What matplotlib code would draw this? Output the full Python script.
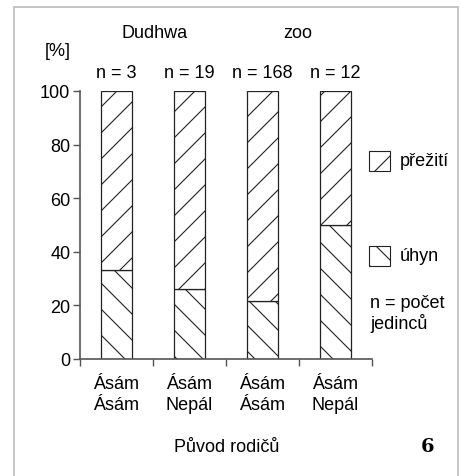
import matplotlib
matplotlib.use("Agg")
import matplotlib.pyplot as plt
from matplotlib.patches import Rectangle
import numpy as np

# data
groups = ["Ásám\nÁsám", "Ásám\nNepál", "Ásám\nÁsám", "Ásám\nNepál"]
n_labels = ["n = 3", "n = 19", "n = 168", "n = 12"]
death = [33.3, 26.3, 21.7, 50.0]
survival = [100 - d for d in death]

# dpi chosen so that the hatch spacing matches the original (~13 px)
DPI = 78
S = 100 / DPI  # sizes below are given as if at 100 dpi
FS = 13 * S

plt.rcParams["font.family"] = ["Liberation Sans", "DejaVu Sans"]
plt.rcParams["hatch.linewidth"] = 0.8 * S
plt.rcParams["hatch.color"] = "#555555"

W, H = 467, 477
fig = plt.figure(figsize=(W / DPI, H / DPI), dpi=DPI)
ax = fig.add_axes([80 / W, 1 - 360 / H, 292 / W, 268 / H])

x = np.arange(len(groups))
bw = 0.42
ax.bar(x, death, bw, color="white", edgecolor="#222222", hatch="\\", lw=0.9 * S)
ax.bar(x, survival, bw, bottom=death, color="white", edgecolor="#222222", hatch="/", lw=0.9 * S)

ax.set_xlim(-0.5, 3.5)
ax.set_ylim(0, 100)
ax.set_yticks([0, 20, 40, 60, 80, 100])
ax.tick_params(axis="y", labelsize=FS, length=5 * S, width=1 * S, color="#555555", pad=2 * S)
ax.set_xticks(np.arange(-0.5, 4, 1))
ax.set_xticklabels([])
ax.tick_params(axis="x", length=5 * S, width=1 * S, color="#555555")
for xi, g in zip(x, groups):
    ax.text(xi, -6, g, ha="center", va="top", fontsize=FS, linespacing=1.3)
for s in ["top", "right"]:
    ax.spines[s].set_visible(False)
for s in ["left", "bottom"]:
    ax.spines[s].set_color("#555555")
    ax.spines[s].set_linewidth(1.2 * S)

# labels above
for xi, t in zip(x, n_labels):
    ax.text(xi, 107, t, ha="center", va="center", fontsize=FS, clip_on=False)
fig.text(155 / W, 1 - 33 / H, "Dudhwa", ha="center", va="center", fontsize=FS)
fig.text(298 / W, 1 - 33 / H, "zoo", ha="center", va="center", fontsize=FS)
fig.text(58 / W, 1 - 52 / H, "[%]", ha="center", va="center", fontsize=FS)
fig.text(227 / W, 1 - 448 / H, "Původ rodičů", ha="center", va="center", fontsize=FS)
fig.text(428 / W, 1 - 447 / H, "6", ha="center", va="center", fontsize=14 * S,
         fontweight="bold", family="DejaVu Serif")

# legend
for yc, h, lbl in [(162, "/", "přežití"), (257, "\\", "úhyn")]:
    fig.patches.append(Rectangle((369 / W, 1 - (yc + 10) / H), 21 / W, 20 / H,
                                 transform=fig.transFigure, facecolor="white",
                                 edgecolor="#222222", hatch=h, lw=0.8 * S))
    fig.text(400 / W, 1 - yc / H, lbl, ha="left", va="center", fontsize=FS)
fig.text(370 / W, 1 - 314 / H, "n = počet\njedinců", ha="left", va="center",
         fontsize=FS, linespacing=1.15)

# outer frame
fig.patches.append(Rectangle((14 / W, -0.05), 444 / W, 1 - 8 / H + 0.05,
                             transform=fig.transFigure, fill=False,
                             edgecolor="#bbbbbb", lw=1.2 * S))

fig.savefig("out.png", dpi=DPI)
